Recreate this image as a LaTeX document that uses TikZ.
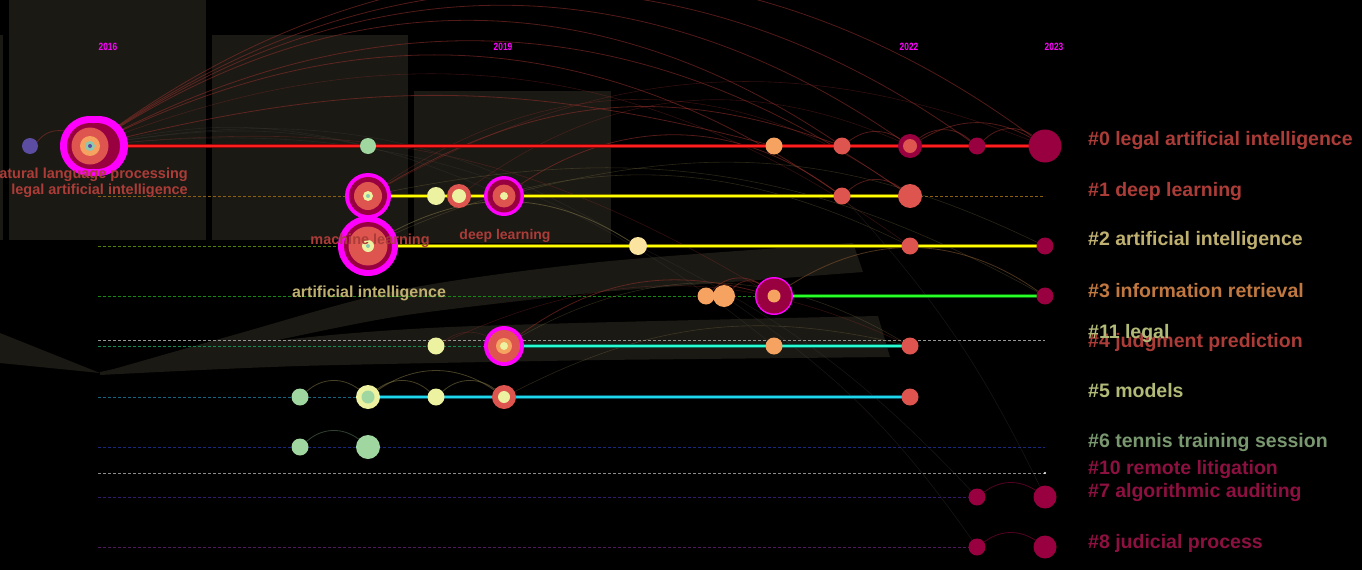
\documentclass[tikz,border=0pt]{standalone}
\usepackage{graphicx}
\usepackage{fontspec}
\setmainfont{Liberation Sans}
\pgfdeclarelayer{bg}
\pgfdeclarelayer{links}
\pgfsetlayers{bg,links,main}

\definecolor{panel}{RGB}{27,25,20}
\definecolor{cmag}{RGB}{255,0,255}
\definecolor{ccrim}{RGB}{153,0,64}
\definecolor{ccoral}{RGB}{222,84,78}
\definecolor{corange}{RGB}{246,162,96}
\definecolor{cly}{RGB}{236,242,160}
\definecolor{ccream}{RGB}{250,228,160}
\definecolor{cgreen}{RGB}{160,214,160}
\definecolor{cteal}{RGB}{140,200,176}
\definecolor{cpurple}{RGB}{92,76,162}
\definecolor{lred}{RGB}{150,48,44}
\definecolor{lgray}{RGB}{70,66,60}
\definecolor{lolive}{RGB}{130,118,70}
\definecolor{lbrown}{RGB}{140,90,50}
\definecolor{lsage}{RGB}{90,120,90}
\definecolor{tred}{RGB}{172,60,56}
\definecolor{tkhaki}{RGB}{192,176,112}
\definecolor{torange}{RGB}{192,120,64}
\definecolor{tolive}{RGB}{178,186,120}
\definecolor{tgreen}{RGB}{122,152,112}
\definecolor{tcrim}{RGB}{140,16,64}
% dashed row colours
\definecolor{d1}{RGB}{140,96,16}
\definecolor{d2}{RGB}{80,130,10}
\definecolor{d3}{RGB}{20,140,20}
\definecolor{d11}{RGB}{150,150,150}
\definecolor{d4}{RGB}{20,140,80}
\definecolor{d5}{RGB}{20,100,130}
\definecolor{d6}{RGB}{24,40,130}
\definecolor{d10}{RGB}{140,140,140}
\definecolor{d7}{RGB}{50,24,110}
\definecolor{d8}{RGB}{80,24,90}
% timeline colours (glow, core)
\definecolor{g0}{RGB}{130,10,10}   \definecolor{s0}{RGB}{255,30,30}
\definecolor{gy}{RGB}{120,110,0}   \definecolor{sy}{RGB}{255,255,0}
\definecolor{g3}{RGB}{10,110,10}   \definecolor{s3}{RGB}{40,255,40}
\definecolor{g4}{RGB}{10,110,90}   \definecolor{s4}{RGB}{40,250,210}
\definecolor{g5}{RGB}{10,90,110}   \definecolor{s5}{RGB}{30,215,235}

\begin{document}
\begin{tikzpicture}[x=1pt,y=-1pt,
  bub/.style={circle,inner sep=0pt,minimum size=#1},
  rowdash/.style={draw=#1,line width=0.9pt,dash pattern=on 3pt off 2pt},
  link/.style={draw=#1,line width=0.8pt,opacity=0.55},
  faint/.style={draw=#1,line width=0.6pt,opacity=0.32},
  glow/.style={draw=#1,line width=3.2pt},
  core/.style={draw=#1,line width=1.7pt},
  yearlbl/.style={text=cmag,inner sep=0pt,font=\bfseries\fontsize{10.5}{11}\selectfont},
  clus/.style={anchor=base west,inner sep=0pt,font=\bfseries\fontsize{19.5}{20}\selectfont},
  kw/.style={inner sep=0pt,font=\bfseries\fontsize{#1}{#1}\selectfont}]

\useasboundingbox (0,0) rectangle (1362,570);

% ---------- backdrop ----------
\begin{pgfonlayer}{bg}
\fill[black] (0,0) rectangle (1362,570);
\fill[panel] (0,35) rectangle (3,240);
\fill[panel] (9,0) rectangle (206,240);
\fill[panel] (212,35) rectangle (408,240);
\fill[panel] (414,91) rectangle (611,243);
\fill[panel] (0,333) -- (100,373) -- (0,363) -- cycle;
\fill[panel] plot[smooth] coordinates {(100,373) (230,336) (400,290) (600,262) (853,243)}
  -- (863,272) -- plot[smooth] coordinates {(600,292) (400,316) (230,350) (100,375)} -- cycle;
\fill[panel] plot[smooth] coordinates {(100,372) (250,344) (450,327) (878,316)}
  -- (890,357) -- plot[smooth] coordinates {(600,360) (300,366) (100,375)} -- cycle;
\end{pgfonlayer}

% ---------- time axis labels ----------
\node[yearlbl] (y16) at (108,47) {\scalebox{0.8}[1]{2016}};
\node[yearlbl] (y19) at (503,47) {\scalebox{0.8}[1]{2019}};
\node[yearlbl] (y22) at (909,47) {\scalebox{0.8}[1]{2022}};
\node[yearlbl] (y23) at (1054,47) {\scalebox{0.8}[1]{2023}};

% ---------- cluster #0 ----------
\node[bub=16,fill=cpurple] (a0) at (30,146) {};
\fill[cmag] (98,146) circle (30pt);
\node[bub=60,fill=cmag] (a1) at (90,146) {};
\fill[ccrim] (97,146) circle (23pt);
\fill[ccrim] (a1) circle (23pt);
\fill[ccoral] (a1) circle (18.5pt);
\fill[corange] (a1) circle (10pt);
\fill[cteal] (a1) circle (5pt);
\fill[cpurple] (a1) circle (2pt);
\node[bub=16,fill=cgreen] (a2) at (368,146) {};
\node[bub=17,fill=corange] (a3) at (774,146) {};
\node[bub=17,fill=ccoral] (a4) at (842,146) {};
\node[bub=24,fill=ccrim] (a5) at (910,146) {};
\fill[ccoral] (a5) circle (7pt);
\node[bub=17,fill=ccrim] (a6) at (977,146) {};
\node[bub=33,fill=ccrim] (a7) at (1045,146) {};

% ---------- cluster #1 ----------
\node[bub=46,fill=cmag] (b0) at (368,196) {};
\fill[ccrim] (b0) circle (19pt);
\fill[ccoral] (b0) circle (14pt);
\fill[cly] (b0) circle (5pt);
\fill[cteal] (b0) circle (2pt);
\node[bub=18,fill=cly] (b1) at (436,196) {};
\node[bub=24,fill=ccoral] (b2) at (459,196) {};
\fill[cly] (b2) circle (7pt);
\node[bub=40,fill=cmag] (b3) at (504,196) {};
\fill[ccrim] (b3) circle (16.5pt);
\fill[ccoral] (b3) circle (11.5pt);
\fill[cly] (b3) circle (4pt);
\node[bub=17,fill=ccoral] (b4) at (842,196) {};
\node[bub=24,fill=ccoral] (b5) at (910,196) {};

% ---------- cluster #2 ----------
\node[bub=60,fill=cmag] (c0) at (368,246) {};
\fill[ccrim] (c0) circle (24pt);
\fill[ccoral] (c0) circle (19.5pt);
\fill[cly] (c0) circle (6pt);
\fill[cteal] (c0) circle (2pt);
\node[bub=18,fill=ccream] (c1) at (638,246) {};
\node[bub=17,fill=ccoral] (c2) at (910,246) {};
\node[bub=17,fill=ccrim] (c3) at (1045,246) {};

% ---------- cluster #3 ----------
\node[bub=17,fill=corange] (d0) at (706,296) {};
\node[bub=22,fill=corange] (d1) at (724,296) {};
\node[bub=38,fill=cmag] (d2) at (774,296) {};
\fill[ccrim] (d2) circle (17.5pt);
\fill[corange] (d2) circle (6.5pt);
\node[bub=17,fill=ccrim] (d3) at (1045,296) {};

% ---------- cluster #4 ----------
\node[bub=17,fill=cly] (e0) at (436,346) {};
\node[bub=40,fill=cmag] (e1) at (504,346) {};
\fill[ccoral] (e1) circle (16pt);
\fill[corange] (e1) circle (8pt);
\fill[cly] (e1) circle (4pt);
\node[bub=17,fill=corange] (e2) at (774,346) {};
\node[bub=17,fill=ccoral] (e3) at (910,346) {};

% ---------- cluster #5 ----------
\node[bub=17,fill=cgreen] (f0) at (300,397) {};
\node[bub=24,fill=cly] (f1) at (368,397) {};
\fill[cgreen] (f1) circle (6.5pt);
\node[bub=17,fill=cly] (f2) at (436,397) {};
\node[bub=24,fill=ccoral] (f3) at (504,397) {};
\fill[cly] (f3) circle (6pt);
\node[bub=17,fill=ccoral] (f4) at (910,397) {};

% ---------- cluster #6 ----------
\node[bub=17,fill=cgreen] (g0) at (300,447) {};
\node[bub=24,fill=cgreen] (g1) at (368,447) {};

% ---------- clusters #7, #8 ----------
\node[bub=17,fill=ccrim] (h0) at (977,497) {};
\node[bub=23,fill=ccrim] (h1) at (1045,497) {};
\node[bub=17,fill=ccrim] (k0) at (977,547) {};
\node[bub=23,fill=ccrim] (k1) at (1045,547) {};

% ---------- row ends ----------
\coordinate (r1s) at (98,196);  \coordinate (r1e) at (1045,196);
\coordinate (r2s) at (98,246);
\coordinate (r3s) at (98,296);
\coordinate (r11s) at (98,340); \coordinate (r11e) at (1045,340);
\coordinate (r4s) at (98,346);
\coordinate (r5s) at (98,397);
\coordinate (r6s) at (98,447);  \coordinate (r6e) at (1045,447);
\coordinate (r10s) at (98,473); \coordinate (r10e) at (1045,473);
\coordinate (r7s) at (98,497);
\coordinate (r8s) at (98,547);

% ---------- timelines and citation links ----------
\begin{pgfonlayer}{links}
% dashed spans
\draw[rowdash=d1] (r1s) -- (b0.center);
\draw[rowdash=d1] (b5.center) -- (r1e);
\draw[rowdash=d2] (r2s) -- (c0.center);
\draw[rowdash=d3] (r3s) -- (d2.center);
\draw[rowdash=d11] (r11s) -- (r11e);
\draw[rowdash=d4] (r4s) -- (e1.center);
\draw[rowdash=d5] (r5s) -- (f1.center);
\draw[rowdash=d6] (r6s) -- (r6e);
\draw[rowdash=d10] (r10s) -- (r10e);
\fill[white] (r10e) circle (1.2pt);
\draw[rowdash=d7] (r7s) -- (h0.center);
\draw[rowdash=d8] (r8s) -- (k0.center);

% long citation arcs from the 2016 hub
\draw[link=lred] (a1) to[bend left=36] (a7);
\draw[link=lred] (a1) to[bend left=35] (a6);
\draw[link=lred] (a1) to[bend left=34] (a5);
\draw[link=lred] (a1) to[bend left=33] (a4);
\draw[link=lred] (a1) to[bend left=31] (b5);
\draw[link=lred] (a1) to[bend left=30] (b4);
\draw[faint=lred] (a1) to[bend left=28] (c2);
\draw[link=lred] (a1) to[bend left=14] (a3);
\draw[faint=lred] (a1) to[bend left=18] (d2);
\draw[link=lred] (a0) to[bend left=30] (a1);
\draw[faint=lgray] (a1) to[bend left=20] (c1);
\draw[faint=lgray] (a1) to[bend left=16] (b3);
\draw[faint=lgray] (a1) to[bend left=22] (e2);
\draw[faint=lgray] (a1) to[bend left=12] (a2);

% arcs among the 2017-2019 topics
\draw[link=lred] (b0) to[bend left=25] (a4);
\draw[faint=lred] (b0) to[bend left=25] (a7);
\draw[link=lred] (b3) to[bend left=35] (b4);
\draw[faint=lred] (b0) to[bend left=35] (b5);
\draw[faint=lred] (b2) to[bend left=30] (a5);
\draw[link=lolive] (c0) to[bend left=30] (c1);
\draw[faint=lolive] (b0) to[bend left=20] (d3);
\draw[faint=lolive] (c0) to[bend left=25] (c2);
\draw[faint=lolive] (b3) to[bend left=20] (c3);

% arcs near the information retrieval and judgment rows
\draw[link=lred] (d0) to[bend left=40] (d2);
\draw[link=lred] (d1) to[bend left=40] (d2);
\draw[link=lbrown] (d2) to[bend left=34] (d3);
\draw[link=lred] (e1) to[bend left=25] (d2);
\draw[faint=lred] (e0) to[bend left=25] (e3);
\draw[faint=lolive] (e1) to[bend left=30] (e3);
\draw[faint=lolive] (f3) to[bend left=20] (e3);
\draw[faint=lred] (e0) to[bend left=30] (e1);

% short arcs between neighbours
\draw[link=lred] (a4) to[bend left=35] (a5);
\draw[link=lred] (a5) to[bend left=40] (a6);
\draw[link=lred] (a6) to[bend left=40] (a7);
\draw[link=lred] (a5) to[bend left=30] (a7);
\draw[link=lred] (b4) to[bend left=40] (b5);
\draw[link=lolive] (f0) to[bend left=40] (f1);
\draw[link=lolive] (f1) to[bend left=40] (f2);
\draw[link=lolive] (f2) to[bend left=40] (f3);
\draw[link=lolive] (f1) to[bend left=35] (f3);
\draw[link=lsage] (g0) to[bend left=40] (g1);
\draw[link=ccrim] (h0) to[bend left=35] (h1);
\draw[link=ccrim] (k0) to[bend left=35] (k1);

% faint long links towards the newest clusters
\draw[faint=lgray] (c1) to[bend left=10] (h0);
\draw[faint=lgray] (d1) to[bend left=10] (k0);
\draw[faint=lgray] (b4) to[bend left=8] (h1);

% solid active spans
\draw[glow=g0] (a1.center) -- (a7.center);
\draw[core=s0] (a1.center) -- (a7.center);
\draw[glow=gy] (b0.center) -- (b5.center);
\draw[core=sy] (b0.center) -- (b5.center);
\draw[glow=gy] (c0.center) -- (c3.center);
\draw[core=sy] (c0.center) -- (c3.center);
\draw[glow=g3] (d2.center) -- (d3.center);
\draw[core=s3] (d2.center) -- (d3.center);
\draw[glow=g4] (e1.center) -- (e3.center);
\draw[core=s4] (e1.center) -- (e3.center);
\draw[glow=g5] (f1.center) -- (f4.center);
\draw[core=s5] (f1.center) -- (f4.center);
\end{pgfonlayer}

% ---------- keyword labels ----------
\node[kw=14.5,text=tred,anchor=base east] (t1) at (188,178) {natural language processing};
\node[kw=14.5,text=tred,anchor=base east] (t2) at (188,194) {legal artificial intelligence};
\node[kw=14.5,text=tred,anchor=base] (t3) at (370,244) {machine learning};
\node[kw=14,text=tred,anchor=base] (t4) at (505,239) {deep learning};
\node[kw=16,text=tkhaki,anchor=base] (t5) at (369,297) {artificial intelligence};

% ---------- cluster labels ----------
\node[clus,text=tred] (l0) at (1088,145) {\#0 legal artificial intelligence};
\node[clus,text=tred] (l1) at (1088,196) {\#1 deep learning};
\node[clus,text=tkhaki] (l2) at (1088,245) {\#2 artificial intelligence};
\node[clus,text=torange] (l3) at (1088,297) {\#3 information retrieval};
\node[clus,text=tred] (l4) at (1088,347) {\#4 judgment prediction};
\node[clus,text=tolive] (l11) at (1088,338) {\#11 legal};
\node[clus,text=tolive] (l5) at (1088,397) {\#5 models};
\node[clus,text=tgreen] (l6) at (1088,447) {\#6 tennis training session};
\node[clus,text=tcrim] (l10) at (1088,474) {\#10 remote litigation};
\node[clus,text=tcrim] (l7) at (1088,497) {\#7 algorithmic auditing};
\node[clus,text=tcrim] (l8) at (1088,548) {\#8 judicial process};
\end{tikzpicture}
\end{document}
